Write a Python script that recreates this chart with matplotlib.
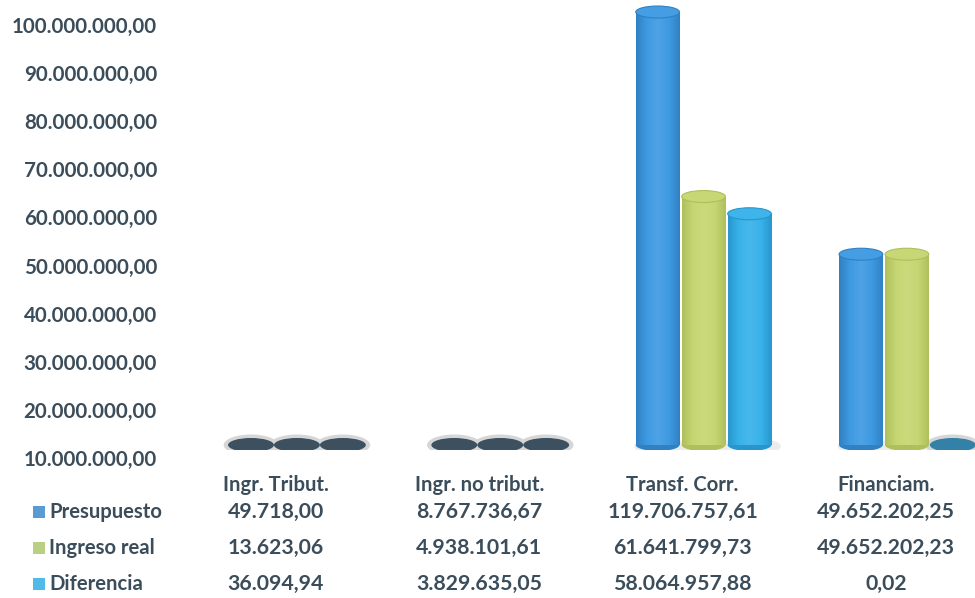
import numpy as np
import matplotlib
matplotlib.use('Agg')
import matplotlib.pyplot as plt
from matplotlib.patches import Ellipse, Rectangle
from matplotlib.colors import LinearSegmentedColormap, to_rgb
import matplotlib.transforms as mtransforms

# ---------------- data ----------------
categories = ['Ingr. Tribut.', 'Ingr. no tribut.', 'Transf. Corr.', 'Financiam.']
series_names = ['Presupuesto', 'Ingreso real', 'Diferencia']
presupuesto = [49718.00, 8767736.67, 119706757.61, 49652202.25]
ingreso_real = [13623.06, 4938101.61, 61641799.73, 49652202.23]
diferencia = [36094.94, 3829635.05, 58064957.88, 0.02]
y_ticks = [10e6, 20e6, 30e6, 40e6, 50e6, 60e6, 70e6, 80e6, 90e6, 100e6]
axis_min = 10e6
axis_max = 100e6

series_values = [presupuesto, ingreso_real, diferencia]
body_mid = ['#3f9ae2', '#c6d672', '#38b2ea']
body_edge = ['#3080c2', '#aebf5c', '#2896cc']
legend_colors = ['#5b9bd5', '#b9cf83', '#4fbbe6']
text_color = '#3b4d5a'
FONT = 'Lato'


def es_fmt(v):
    s = f"{v:,.2f}"
    return s.replace(',', 'X').replace('.', ',').replace('X', '.')


def mix(c1, c2, t):
    a = np.array(to_rgb(c1)); b = np.array(to_rgb(c2))
    return tuple(a * (1 - t) + b * t)


W, H = 975, 598
fig = plt.figure(figsize=(W / 100, H / 100), dpi=100)
ax = fig.add_axes([215 / W, 1 - 449.8 / H, 760 / W, 449.8 / H])
ax.set_ylim(9e6, 102.5e6)
ax.set_xlim(-0.403, 3.335)
ax.axis('off')

px_per_unit_y = 449.8 / (102.5e6 - 9e6)
cap_h = 12 / px_per_unit_y
disc_h = 14 / px_per_unit_y
bar_w = 0.215
step = 0.226

for j, vals in enumerate(series_values):
    cmap = LinearSegmentedColormap.from_list(
        f's{j}', [body_edge[j], body_mid[j], mix(body_mid[j], 'white', 0.08), body_mid[j], body_edge[j]])
    for i, v in enumerate(vals):
        xc = i + (j - 1) * step
        x0 = xc - bar_w / 2
        if v <= axis_min:
            # value below axis minimum: flat disc on the floor
            halo = Ellipse((xc, axis_min), bar_w * 1.25, disc_h * 1.5,
                           facecolor='#d6d6d6', edgecolor='none', zorder=2)
            ax.add_patch(halo)
            dc = '#3c5060' if i < 2 else mix(body_mid[j], '#2d4556', 0.45)
            disc = Ellipse((xc, axis_min), bar_w * 1.05, disc_h,
                           facecolor=dc, edgecolor='none', zorder=3 + j)
            ax.add_patch(disc)
            continue
        top = min(v, axis_max)
        # floor shadow
        ax.add_patch(Ellipse((xc + 0.02, axis_min - 0.3e6), bar_w * 1.25, disc_h * 1.2,
                             facecolor='#ececec', edgecolor='none', zorder=1))
        rect = Rectangle((x0, axis_min), bar_w, top - axis_min, facecolor='none',
                         edgecolor='none', zorder=3 + j)
        ax.add_patch(rect)
        grad = np.linspace(0, 1, 256).reshape(1, -1)
        im = ax.imshow(grad, cmap=cmap, aspect='auto',
                       extent=(x0, x0 + bar_w, axis_min, top), zorder=3 + j,
                       interpolation='bilinear')
        im.set_clip_path(rect)
        bottom = Ellipse((xc, axis_min), bar_w, cap_h, facecolor=body_edge[j],
                         edgecolor='none', zorder=2.9 + j)
        ax.add_patch(bottom)
        cap = Ellipse((xc, top), bar_w, cap_h, facecolor=mix(body_mid[j], 'white', 0.03),
                      edgecolor=body_edge[j], linewidth=0.8, zorder=3.1 + j)
        ax.add_patch(cap)

# y tick labels (3-D back wall sits slightly lower than the bars)
ylab_tr = mtransforms.blended_transform_factory(ax.transAxes, ax.transData) + \
    mtransforms.ScaledTranslation(0, -0.15, fig.dpi_scale_trans)
for t in y_ticks:
    ax.text(-58 / 760, t, es_fmt(t), transform=ylab_tr, ha='right', va='center',
            fontsize=14.8, fontweight='bold', color=text_color, family=FONT, clip_on=False)

# data table
col_tr = mtransforms.blended_transform_factory(ax.transData, fig.transFigure) + \
    mtransforms.ScaledTranslation(-0.21, 0, fig.dpi_scale_trans)
header_y = 1 - 485 / H
row_y = [1 - 512 / H, 1 - 548 / H, 1 - 584 / H]
for i, c in enumerate(categories):
    fig.text(i, header_y, c, transform=col_tr, ha='center', va='center',
             fontsize=14.6, fontweight='bold', color=text_color, family=FONT)
for j, vals in enumerate(series_values):
    for i, v in enumerate(vals):
        fig.text(i, row_y[j], es_fmt(v), transform=col_tr, ha='center', va='center',
                 fontsize=15.3, fontweight='bold', color=text_color, family=FONT)
    fig.patches.append(Rectangle((33 / W, row_y[j] - 6 / H), 12 / W, 12 / H,
                                 transform=fig.transFigure, facecolor=legend_colors[j],
                                 edgecolor='none'))
    fig.text(49 / W, row_y[j], series_names[j], ha='left', va='center',
             fontsize=14.6, fontweight='bold', color=text_color, family=FONT)

fig.savefig('out.png', dpi=100, facecolor='white')
